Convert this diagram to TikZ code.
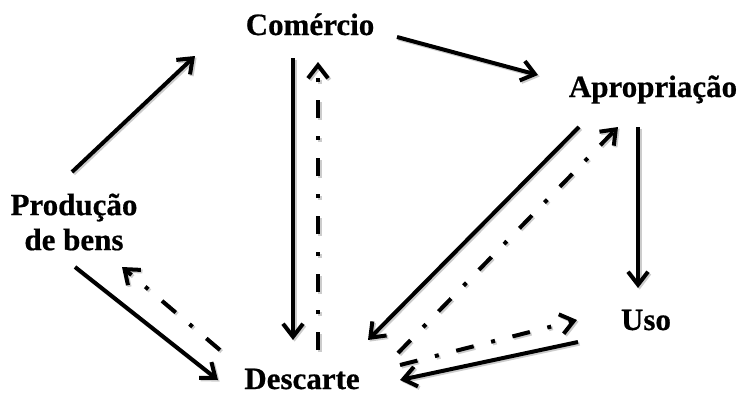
\documentclass[tikz,border=0pt]{standalone}
\usepackage{fontspec}
\setmainfont{Liberation Serif}[BoldFeatures={FakeBold=0.6}]
\usetikzlibrary{arrows.meta}
\tikzset{
  label/.style={font=\fontsize{31}{35}\selectfont\bfseries, inner sep=0pt, anchor=base},
  tipped/.style={line width=4pt, line cap=butt,
    -{Straight Barb[length=13pt, width=20pt, line width=4pt]}},
  flow/.style={tipped,
    preaction={draw=black!20, tipped,
      transform canvas={xshift=1.6pt, yshift=-1.6pt}}},
  dashdot/.style={dash pattern=on 18pt off 18pt on 4pt off 18pt},
  back/.style={tipped, dashdot,
    preaction={draw=black!20, tipped, dashdot,
      transform canvas={xshift=1.6pt, yshift=-1.6pt}}},
}
\begin{document}
\begin{tikzpicture}[x=1pt, y=-1pt]
  \useasboundingbox (0,0) rectangle (741,394);

  % labels
  \node[label] (com) at (310,35) {Comércio};
  \node[label] (apr) at (653,97) {Apropriação};
  \node[label, align=center, anchor=center] (prod) at (74,222) {Produção\\de bens};
  \node[label] (uso) at (646,330) {Uso};
  \node[label] (des) at (302,389) {Descarte};

  % forward flows
  \draw[flow] ([shift={(-2,-50)}]prod.center) -- ([shift={(-115,21)}]com.base);
  \draw[flow] ([shift={(87,2)}]com.base) -- ([shift={(-115,-22)}]apr.base);
  \draw[flow] ([shift={(-17,23)}]com.base) -- ([shift={(-9,-49)}]des.base);
  \draw[flow] ([shift={(-15,30)}]apr.base) -- ([shift={(-8,-42)}]uso.base);
  \draw[flow] ([shift={(-74,30)}]apr.base) -- ([shift={(66,-49)}]des.base);
  \draw[flow] ([shift={(-68,12)}]uso.base) -- ([shift={(98,-9)}]des.base);
  \draw[flow] ([shift={(1,45)}]prod.center) -- ([shift={(-84,-9)}]des.base);

  % return flows
  \draw[back] ([shift={(16,-39)}]des.base) -- ([shift={(8,27)}]com.base);
  \draw[back] ([shift={(96,-36)}]des.base) -- ([shift={(-35,30)}]apr.base);
  \draw[back] ([shift={(98,-24)}]des.base) -- ([shift={(-69,-10)}]uso.base);
  \draw[back] ([shift={(-82,-39)}]des.base) -- ([shift={(48,45)}]prod.center);
\end{tikzpicture}
\end{document}
